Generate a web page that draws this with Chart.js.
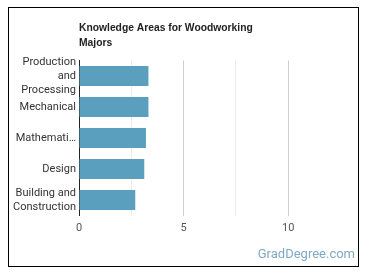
<!DOCTYPE html>
<html>
<head>
<meta charset="utf-8">
<script src="https://cdn.jsdelivr.net/npm/chart.js@4/dist/chart.umd.min.js"></script>
<style>
  body { margin: 0; background: #fff; }
  #wrap { position: relative; width: 370px; height: 278px; }
  #frame { position: absolute; left: 8px; top: 7px; width: 351px; height: 260px; border: 1px solid #000; box-sizing: border-box; }
  canvas { position: absolute; left: 0; top: 0; }
</style>
</head>
<body>
<div id="wrap">
  <div id="frame"></div>
  <canvas id="myChart" width="370" height="278"></canvas>
</div>
<script>
// data
const titleLines = ["Knowledge Areas for Woodworking", "Majors"];
const categories = [
  ["Production", "and", "Processing"],
  "Mechanical",
  "Mathemati\u2026",
  "Design",
  ["Building and", "Construction"]
];
const scores = [3.32, 3.32, 3.2, 3.12, 2.69];
const tickStep = 2.5;
const axisMax = 12.5;
const watermark = "GradDegree.com";

const ctx = document.getElementById("myChart");

// title + watermark drawn on the canvas
const extraText = {
  id: "extraText",
  afterDraw(chart) {
    const c = chart.ctx;
    c.save();
    c.fillStyle = "#222";
    c.font = 'bold 10.3px "Liberation Sans", Arial, sans-serif';
    c.textBaseline = "middle";
    c.textAlign = "left";
    titleLines.forEach((line, i) => {
      c.fillText(line, chart.chartArea.left, 28 + i * 15);
    });
    c.fillStyle = "#7ea8c4";
    c.font = '13px Roboto, sans-serif';
    c.textAlign = "right";
    c.fillText(watermark, 355, 255);
    c.restore();
  }
};

const myChart = new Chart(ctx, {
  type: "bar",
  data: {
    labels: categories,
    datasets: [
      {
        data: scores,
        backgroundColor: "#5aa0be",
        borderWidth: 0,
        barPercentage: 0.65,
        categoryPercentage: 1
      }
    ]
  },
  options: {
    indexAxis: "y",
    responsive: false,
    animation: false,
    layout: {
      padding: { left: 0, right: 29.5, top: 60.5, bottom: 37.5 }
    },
    plugins: {
      legend: { display: false },
      tooltip: { enabled: false },
      title: { display: false }
    },
    scales: {
      x: {
        min: 0,
        max: axisMax,
        ticks: {
          stepSize: tickStep,
          padding: 6,
          color: "#555",
          font: { family: "Roboto", size: 11 },
          maxRotation: 0,
          autoSkip: false,
          callback: (v) => (v % 5 === 0 && v < axisMax ? v : "")
        },
        grid: {
          drawTicks: false,
          color: (c) => {
            const v = c.tick ? c.tick.value : 0;
            if (v === 0 || v >= axisMax) return "rgba(0,0,0,0)";
            return v % 5 === 0 ? "#cfcfcf" : "#ececec";
          }
        },
        border: { display: false },
        afterFit: (scale) => { scale.height = 25; }
      },
      y: {
        ticks: {
          color: "#333",
          padding: 3,
          autoSkip: false,
          font: { family: "Roboto", size: 11, lineHeight: 1.27 }
        },
        grid: { display: false, drawTicks: false },
        border: { display: true, color: "#222", width: 1 },
        afterFit: (scale) => { scale.width = 79; }
      }
    }
  },
  plugins: [extraText]
});
</script>
</body>
</html>
